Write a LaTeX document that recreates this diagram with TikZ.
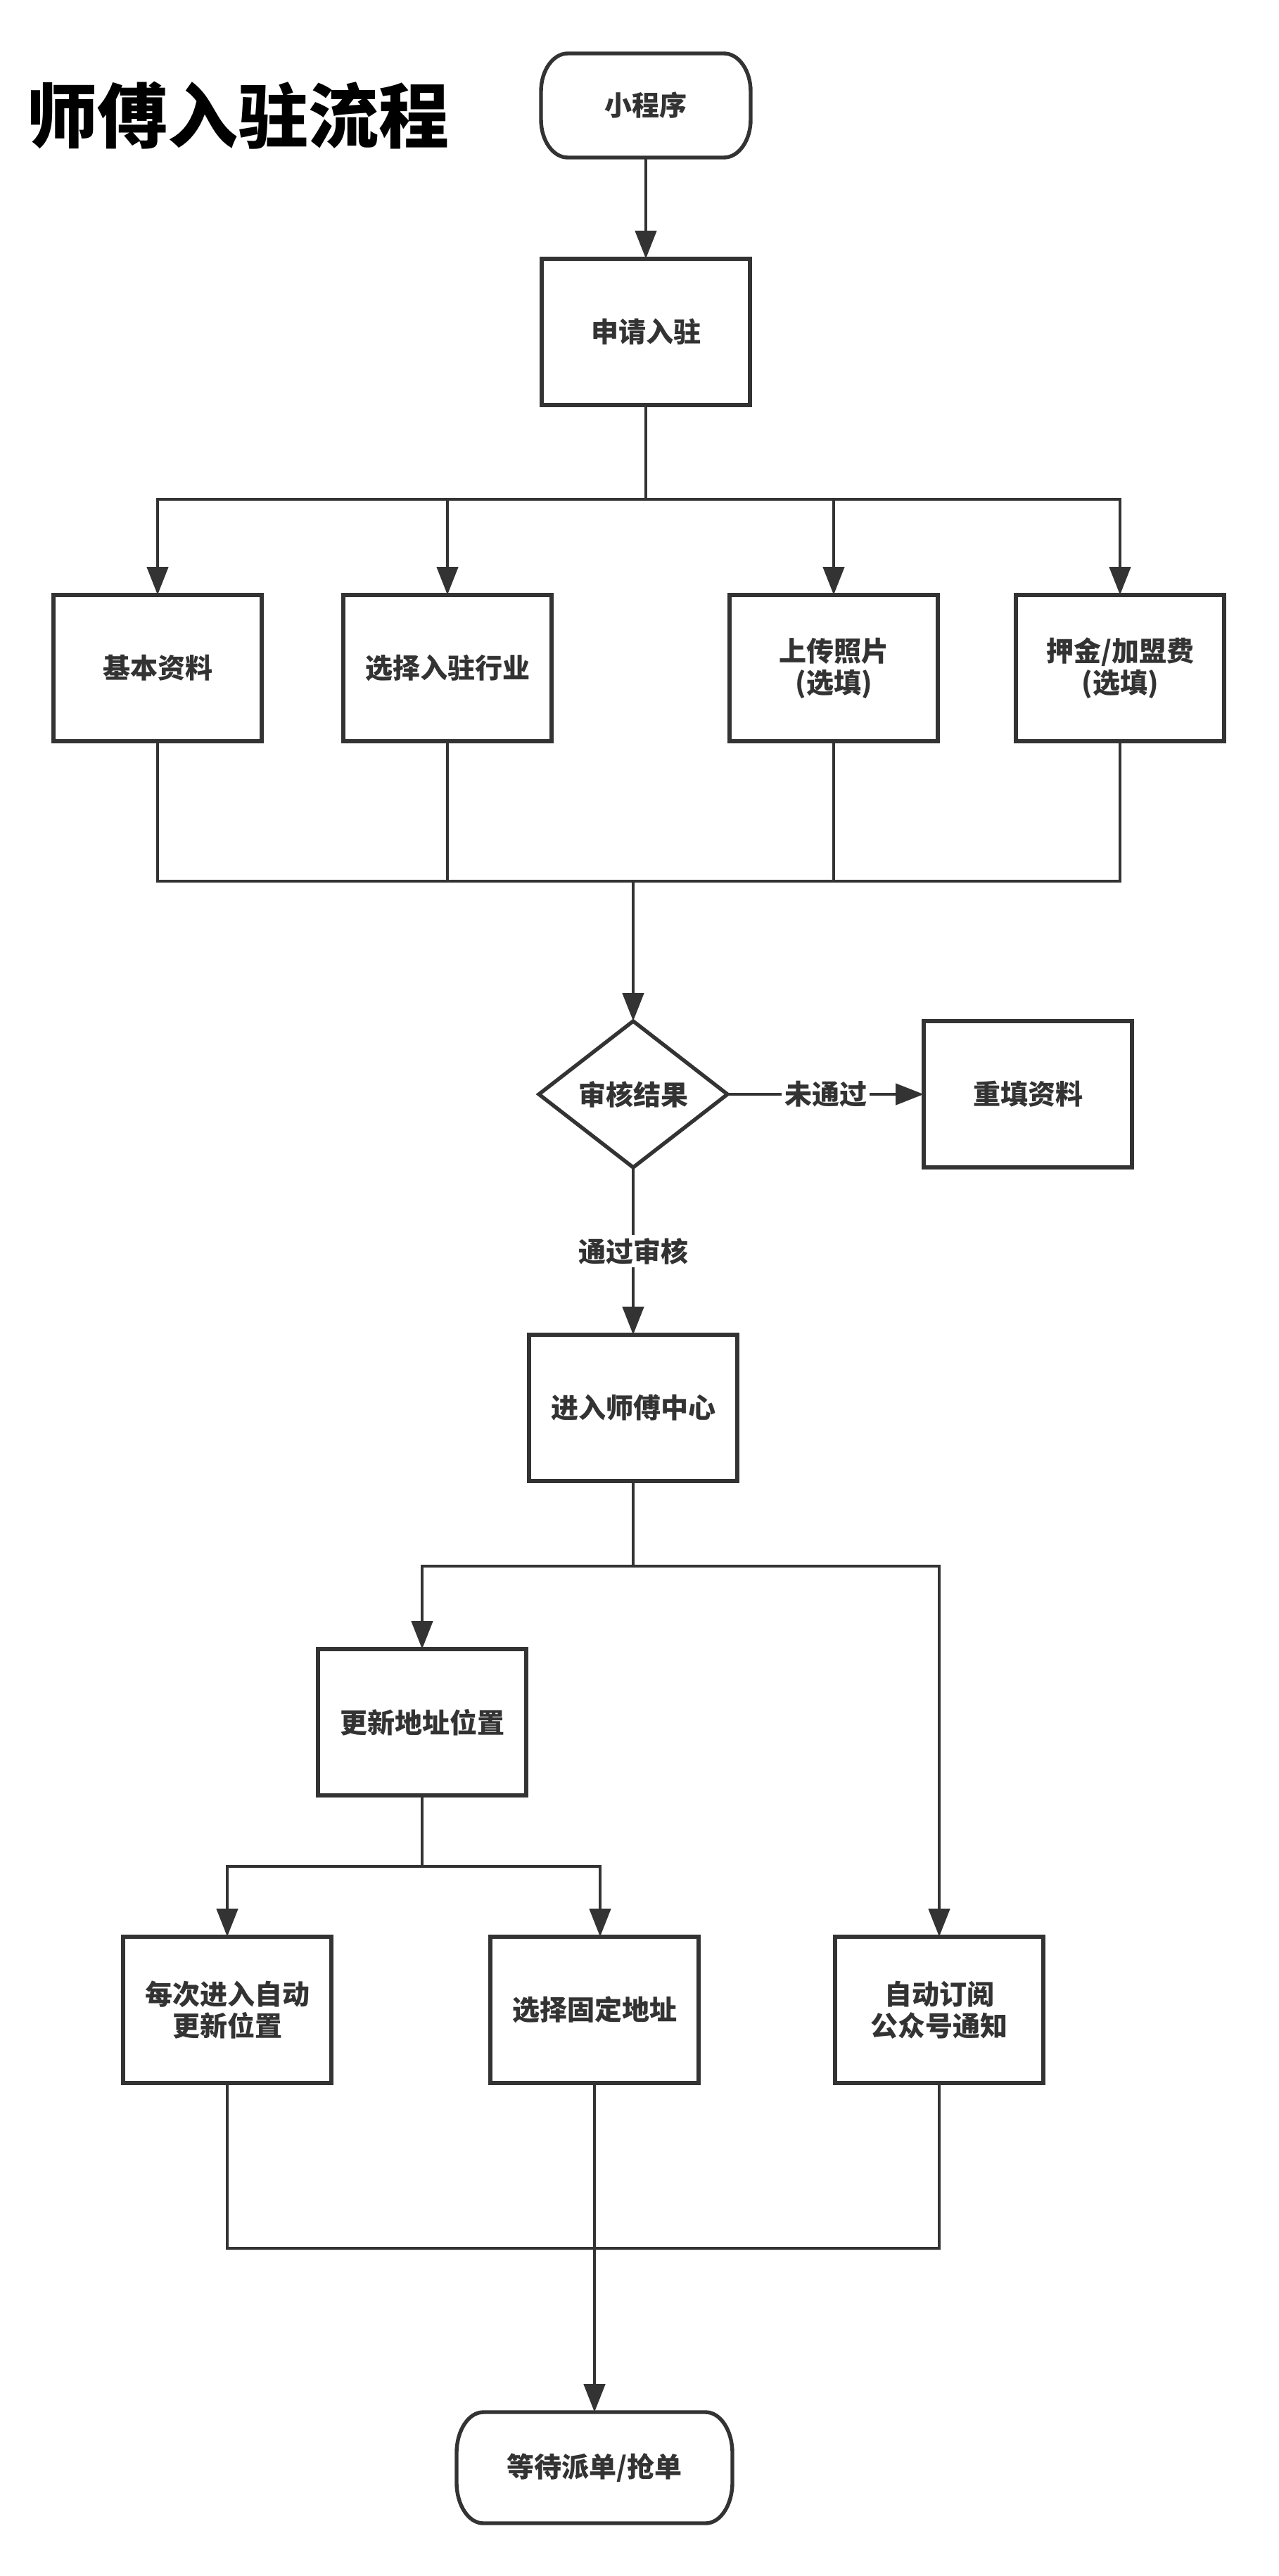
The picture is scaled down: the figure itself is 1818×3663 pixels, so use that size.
\documentclass[tikz,border=0pt]{standalone}
\usepackage{fontspec}
\newfontfamily\cjk{Noto Sans CJK SC}
\usetikzlibrary{arrows.meta,shapes.geometric,calc}
\definecolor{lc}{HTML}{333333}
\tikzset{
  ln/.style={draw=lc, line width=2.4pt},
  arr/.style={ln, -{Triangle[length=20pt,width=15pt]}},
  txt/.style={text=lc, font=\cjk\bfseries\fontsize{19.5}{22.5}\selectfont, align=center},
  box/.style={txt, draw=lc, line width=2.7pt, minimum width=148pt, minimum height=104pt, inner sep=0pt, outer sep=0pt},
  dia/.style={txt, diamond, draw=lc, line width=2.7pt, minimum width=134pt, minimum height=104pt, inner sep=0pt, outer sep=0pt},
  term/.style={txt, draw=none, inner sep=0pt, outer sep=0pt},
  shp/.style={draw=lc, line width=2.7pt},
  lbl/.style={txt, fill=white, inner sep=2pt},
  ttl/.style={text=black, font=\cjk\bfseries\fontsize{50}{56}\selectfont, inner sep=0pt}
}
\newcommand\termout[3]{%
  \draw[shp] ($(#1.north west)+(#2,0)$) -- ($(#1.north east)+(-#2,0)$)
    arc[start angle=90,end angle=0,x radius=#2,y radius=#3]
    -- ($(#1.south east)+(0,#3)$)
    arc[start angle=0,end angle=-90,x radius=#2,y radius=#3]
    -- ($(#1.south west)+(#2,0)$)
    arc[start angle=270,end angle=180,x radius=#2,y radius=#3]
    -- ($(#1.north west)+(0,-#3)$)
    arc[start angle=180,end angle=90,x radius=#2,y radius=#3] -- cycle;}
\begin{document}
\begin{tikzpicture}[x=0.5pt,y=0.5pt]
\useasboundingbox[fill=white] (0,0) rectangle (1818,-3663);
\node[ttl, anchor=west] (title) at (38,-164) {师傅入驻流程};
\node[term, minimum width=149pt, minimum height=74pt] (start) at (918,-150) {小程序};
\termout{start}{19pt}{27pt}
\node[box] (apply) at (918,-472) {申请入驻};
\node[box] (b1) at (224,-950) {基本资料};
\node[box] (b2) at (636,-950) {选择入驻行业};
\node[box] (b3) at (1185,-950) {上传照片\\(选填)};
\node[box] (b4) at (1592,-950) {押金/加盟费\\(选填)};
\node[dia] (chk) at (900,-1556) {审核结果};
\node[box] (redo) at (1461,-1556) {重填资料};
\node[box] (ctr) at (900,-2002) {进入师傅中心};
\node[box] (upd) at (600,-2449) {更新地址位置};
\node[box] (ba) at (323,-2858) {每次进入自动\\更新位置};
\node[box] (bb) at (845,-2858) {选择固定地址};
\node[box] (bc) at (1335,-2858) {自动订阅\\公众号通知};
\node[term, minimum width=196pt, minimum height=79pt] (fin) at (845,-3509) {等待派单/抢单};
\termout{fin}{19pt}{29pt}
% connectors
\draw[arr] (start) -- (apply);
\coordinate (j1) at (918,-710);
\draw[ln] (apply.south) -- (j1);
\draw[arr] (j1) -| (b1);
\draw[arr] (j1) -| (b2);
\draw[arr] (j1) -| (b3);
\draw[arr] (j1) -| (b4);
\coordinate (j2) at (900,-1253);
\draw[ln] (b1.south) |- (b4.south |- j2) -- (b4.south);
\draw[ln] (b2.south) -- (b2.south |- j2);
\draw[ln] (b3.south) -- (b3.south |- j2);
\draw[arr] (j2) -- (chk);
\draw[arr] (chk) -- node[lbl]{未通过} (redo);
\draw[arr] (chk) -- node[lbl]{通过审核} (ctr);
\coordinate (j3) at (900,-2227);
\draw[ln] (ctr) -- (j3);
\draw[arr] (j3) -| (upd);
\draw[arr] (j3) -| (bc);
\coordinate (j4) at (600,-2654);
\draw[ln] (upd) -- (j4);
\draw[arr] (j4) -| (ba);
\draw[arr] (j4) -| ([xshift=4pt]bb.north);
\coordinate (j5) at (845,-3197);
\draw[ln] (ba.south) |- (bc.south |- j5) -- (bc.south);
\draw[arr] (bb) -- (fin);
\end{tikzpicture}
\end{document}
